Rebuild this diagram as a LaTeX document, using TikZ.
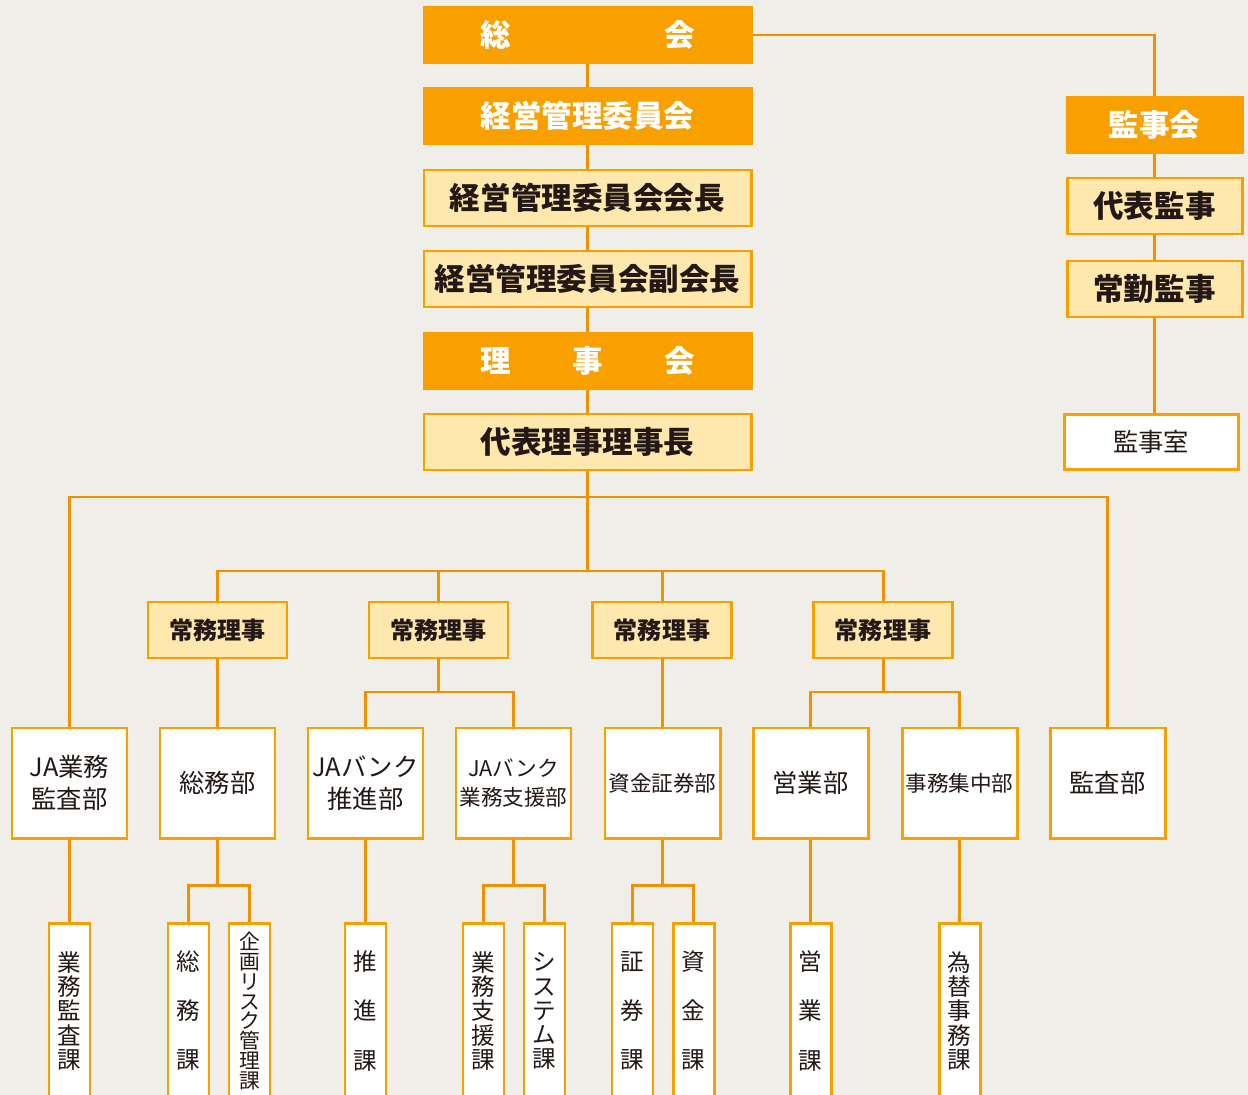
\documentclass[tikz,border=0pt]{standalone}
\usepackage{fontspec}
\setmainfont{Noto Sans CJK JP}
\definecolor{jaor}{HTML}{F7A000}
\definecolor{jaline}{HTML}{F29100}
\definecolor{jayel}{HTML}{FEE8AE}
\definecolor{ink}{HTML}{231815}
\definecolor{bgc}{HTML}{EFEEE8}
\newcommand\bigfont{\fontsize{17.4pt}{20pt}\selectfont}
\newcommand\midfont{\fontsize{14.4pt}{18.2pt}\selectfont}
\newcommand\smfont{\fontsize{12.3pt}{16pt}\selectfont}
\begin{document}
\begin{tikzpicture}[x=0.02cm,y=-0.02cm,
 wh/.style 2 args={minimum width={#1*0.02cm}, minimum height={#2*0.02cm}},
 base/.style={draw=jaor, line width=1.7pt, inner sep=0pt, align=center, text=ink},
 obox/.style={base, fill=jaor, text=white, font=\bigfont\bfseries, wh={327}{56}},
 ybox/.style={base, fill=jayel, font=\bigfont\bfseries, wh={327}{56}},
 kbox/.style={base, fill=jayel, font=\fontsize{13.7pt}{16pt}\selectfont\bfseries, wh={139}{56}},
 dbox/.style={base, fill=white, font=\midfont, wh={115}{110}},
 sbox/.style={base, fill=white, wh={41}{176}},
 vtA/.style={font=\fontsize{13.4pt}{13.7pt}\selectfont},
 vtB/.style={font=\fontsize{13.4pt}{27.9pt}\selectfont},
 vtC/.style={font=\fontsize{11.8pt}{11.3pt}\selectfont},
 conn/.style={draw=jaline, line width=1.7pt}]
\useasboundingbox (0,0) rectangle (1248,1095);
\fill[bgc] (0,0) rectangle (1248,1095);
\clip (0,0) rectangle (1248,1095);

% main column
\node[obox] (sokai) at (587.5,35) {\makebox[4.3cm][s]{総\hfill 会}};
\node[obox] (keiei) at (587.5,116) {経営管理委員会};
\node[ybox] (kaicho) at (587.5,198) {経営管理委員会会長};
\node[ybox] (fuku) at (587.5,279) {経営管理委員会副会長};
\node[obox] (rijikai) at (587.5,361) {\makebox[4.3cm][s]{理\hfill 事\hfill 会}};
\node[ybox] (rijicho) at (587.5,442) {代表理事理事長};

% auditors
\node[obox, wh={175}{56}] (kanjikai) at (1154.5,125) {監事会};
\node[ybox, wh={175}{56}] (daihyo) at (1154.5,206) {代表監事};
\node[ybox, wh={175}{56}] (jokin) at (1154.5,289) {常勤監事};
\node[base, fill=white, font=\midfont, wh={174}{55}] (shitsu) at (1151,442) {監事室};

% executive directors
\node[kbox] (j1) at (217.5,630) {常務理事};
\node[kbox] (j2) at (438.5,630) {常務理事};
\node[kbox] (j3) at (662,630) {常務理事};
\node[kbox] (j4) at (883,630) {常務理事};

% departments
\node[dbox] (d1) at (69.5,783) {JA業務\\監査部};
\node[dbox] (d2) at (217.5,783) {総務部};
\node[dbox] (d3) at (365.5,783) {JAバンク\\推進部};
\node[dbox, font=\smfont] (d4) at (513.5,783) {JAバンク\\業務支援部};
\node[dbox, font=\smfont] (d5) at (662.5,783) {資金証券部};
\node[dbox] (d6) at (810.5,783) {営業部};
\node[dbox, font=\smfont] (d7) at (959.5,783) {事務集中部};
\node[dbox] (d8) at (1107.5,783) {監査部};

% sections
\node[sbox, vtA] (s1) at (69.5,1011) {業\\務\\監\\査\\課};
\node[sbox, vtB] (s2) at (188.5,1011) {総\\務\\課};
\node[sbox, vtC] (s3) at (249.5,1011) {企\\画\\リ\\ス\\ク\\管\\理\\課};
\node[sbox, vtB] (s4) at (365.5,1011) {推\\進\\課};
\node[sbox, vtA] (s5) at (483.5,1011) {業\\務\\支\\援\\課};
\node[sbox, vtA] (s6) at (544.5,1011) {シ\\ス\\テ\\ム\\課};
\node[sbox, vtB] (s7) at (632.5,1011) {証\\券\\課};
\node[sbox, vtB] (s8) at (693.5,1011) {資\\金\\課};
\node[sbox, vtB] (s9) at (810.5,1011) {営\\業\\課};
\node[sbox, vtA] (s10) at (959.5,1011) {為\\替\\事\\務\\課};

% junction coordinates
\coordinate (h1) at (587.5,497);
\coordinate (h2) at (587.5,571);
\coordinate (b2) at (438.5,692);
\coordinate (b4) at (883,692);
\coordinate (c2) at (217.5,885);
\coordinate (c4) at (513.5,885);
\coordinate (c5) at (662.5,885);

% connectors
\draw[conn] (sokai.south) -- (keiei.north);
\draw[conn] (keiei.south) -- (kaicho.north);
\draw[conn] (kaicho.south) -- (fuku.north);
\draw[conn] (fuku.south) -- (rijikai.north);
\draw[conn] (rijikai.south) -- (rijicho.north);
\draw[conn] (rijicho.south) -- (h2);
\draw[conn] (sokai.east) -| (kanjikai.north);
\draw[conn] (kanjikai.south) -- (daihyo.north);
\draw[conn] (daihyo.south) -- (jokin.north);
\draw[conn] (jokin.south) -- (jokin.south |- shitsu.north);

\draw[conn] (d1.north) |- (h1) -| (d8.north);
\draw[conn] (j1.north) |- (h2) -| (j4.north);
\draw[conn] (j2.north) -- (j2.north |- h2);
\draw[conn] (j3.north) -- (j3.north |- h2);

\draw[conn] (j1.south) -- (d2.north);
\draw[conn] (j2.south) -- (b2);
\draw[conn] (d3.north) |- (b2) -| (d4.north);
\draw[conn] (j3.south) -- (j3.south |- d5.north);
\draw[conn] (j4.south) -- (b4);
\draw[conn] (d6.north) |- (b4) -| (d7.north);

\draw[conn] (d1.south) -- (s1.north);
\draw[conn] (d2.south) -- (c2);
\draw[conn] (s2.north) |- (c2) -| (s3.north);
\draw[conn] (d3.south) -- (s4.north);
\draw[conn] (d4.south) -- (c4);
\draw[conn] (s5.north) |- (c4) -| (s6.north);
\draw[conn] (d5.south) -- (c5);
\draw[conn] (s7.north) |- (c5) -| (s8.north);
\draw[conn] (d6.south) -- (s9.north);
\draw[conn] (d7.south) -- (s10.north);
\end{tikzpicture}
\end{document}
